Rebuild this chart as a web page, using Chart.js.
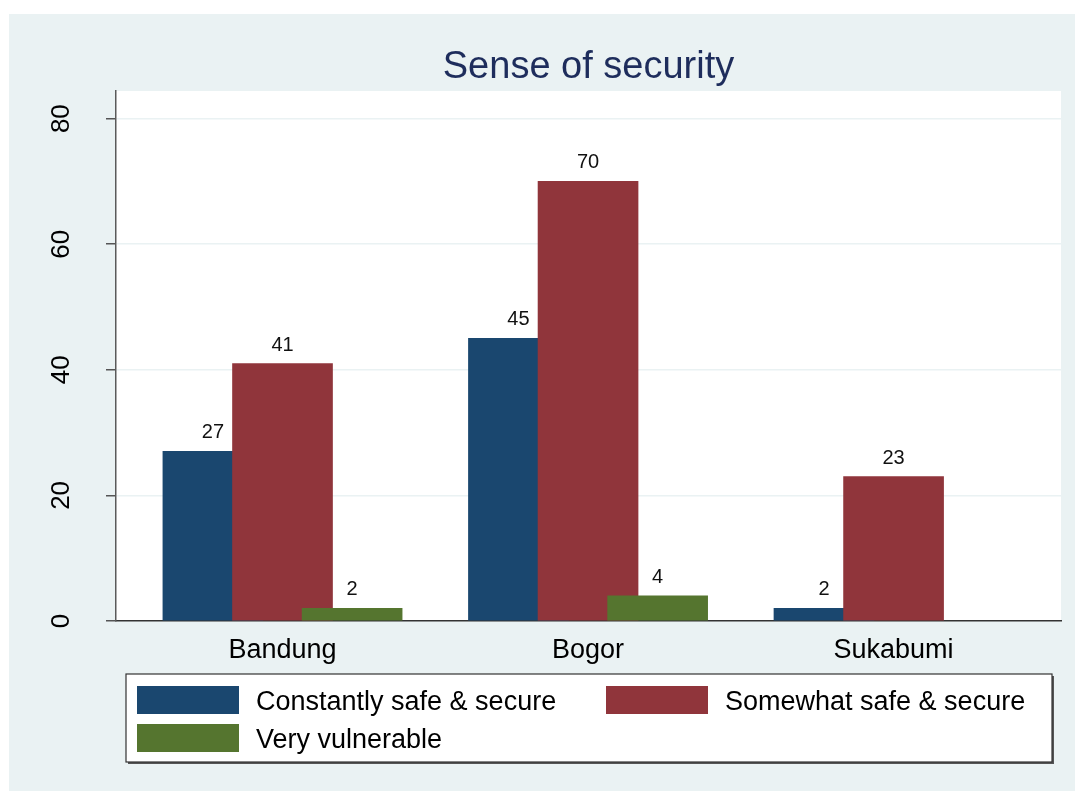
<!DOCTYPE html>
<html><head><meta charset="utf-8">
<script src="https://cdn.jsdelivr.net/npm/chart.js@4/dist/chart.umd.min.js"></script>
<style>html,body{margin:0;padding:0;background:#fff}#wrap{width:1075px;height:791px}</style>
</head><body><div id="wrap"><canvas id="c" width="1075" height="791"></canvas></div>
<script>
// ---- data ----
const categories = ['Bandung', 'Bogor', 'Sukabumi'];
const constantlySafe = [27, 45, 2];
const somewhatSafe = [41, 70, 23];
const veryVulnerable = [2, 4, null];
const seriesLabels = ['Constantly safe & secure', 'Somewhat safe & secure', 'Very vulnerable'];
const yTicks = [0, 20, 40, 60, 80];
const chartTitle = 'Sense of security';

// ---- styles ----
const FONT = '"Liberation Sans", Arial, Helvetica, sans-serif';
const COLORS = ['#1a476f', '#90353b', '#55752f'];
const BG = '#eaf2f3';
const BAR_GAP = 0.2278;   // offset of bars inside a group, in category units
const offsets = [-BAR_GAP, 0, BAR_GAP];

function pts(values, k) {
  return categories.map((c, i) => ({ x: i + offsets[k], y: values[i] }));
}

const bgPlugin = {
  id: 'bg',
  beforeDraw(chart) {
    const { ctx, chartArea: a } = chart;
    ctx.save();
    ctx.fillStyle = '#ffffff';
    ctx.fillRect(0, 0, chart.width, chart.height);
    ctx.fillStyle = BG;
    ctx.fillRect(9, 14, chart.width - 9, chart.height - 14);
    ctx.fillStyle = '#ffffff';
    ctx.fillRect(a.left, a.top, a.right - a.left, a.bottom - a.top);
    ctx.restore();
  }
};

const labelPlugin = {
  id: 'vlabels',
  afterDatasetsDraw(chart) {
    const { ctx } = chart;
    ctx.save();
    ctx.font = '20px ' + FONT;
    ctx.fillStyle = '#111';
    ctx.textAlign = 'center';
    ctx.textBaseline = 'alphabetic';
    chart.data.datasets.forEach((ds, di) => {
      const meta = chart.getDatasetMeta(di);
      meta.data.forEach((el, i) => {
        const v = ds.data[i].y;
        if (v === null || v === undefined) return;
        ctx.fillText(String(v), el.x, el.y - 13);
      });
    });
    ctx.restore();
  }
};

const titlePlugin = {
  id: 'stataTitle',
  afterDraw(chart) {
    const { ctx, chartArea: a } = chart;
    ctx.save();
    ctx.font = '38px ' + FONT;
    ctx.fillStyle = '#1e2d5c';
    ctx.textAlign = 'center';
    ctx.textBaseline = 'alphabetic';
    ctx.fillText(chartTitle, (a.left + a.right) / 2, 78);
    ctx.restore();
  }
};

const legendPlugin = {
  id: 'boxLegend',
  afterDraw(chart) {
    const { ctx } = chart;
    ctx.save();
    // shadow
    ctx.fillStyle = '#555';
    ctx.fillRect(128, 676, 926, 88);
    ctx.fillStyle = '#ffffff';
    ctx.fillRect(126, 674, 926, 88);
    ctx.strokeStyle = '#333';
    ctx.lineWidth = 1.2;
    ctx.strokeRect(126, 674, 926, 88);
    const slots = [
      { sx: 137, tx: 256, y: 686 },
      { sx: 606, tx: 725, y: 686 },
      { sx: 137, tx: 256, y: 724 }
    ];
    ctx.font = '27px ' + FONT;
    ctx.textAlign = 'left';
    ctx.textBaseline = 'middle';
    seriesLabels.forEach((lab, k) => {
      const s = slots[k];
      ctx.fillStyle = COLORS[k];
      ctx.fillRect(s.sx, s.y, 102, 28);
      ctx.fillStyle = '#000';
      ctx.fillText(lab, s.tx, s.y + 17);
    });
    ctx.restore();
  }
};

const seriesValues = [constantlySafe, somewhatSafe, veryVulnerable];
const datasets = seriesValues.map((vals, k) => ({
  label: seriesLabels[k],
  data: pts(vals, k),
  backgroundColor: COLORS[k],
  borderWidth: 0,
  barThickness: 100,
  grouped: false,
  order: 2 - k
}));

new Chart(document.getElementById('c'), {
  type: 'bar',
  data: { datasets },
  plugins: [bgPlugin, labelPlugin, titlePlugin, legendPlugin],
  options: {
    responsive: false,
    devicePixelRatio: 1,
    animation: false,
    layout: { padding: { left: 0, top: 91, right: 14, bottom: 120 } },
    plugins: { legend: { display: false }, title: { display: false }, tooltip: { enabled: false } },
    scales: {
      x: {
        type: 'linear',
        min: -0.545,
        max: 2.548,
        offset: false,
        afterBuildTicks: (s) => { s.ticks = categories.map((c, i) => ({ value: i })); },
        afterFit: (s) => { s.height = 50; },
        ticks: {
          callback: (v) => categories[v],
          autoSkip: false, maxRotation: 0, minRotation: 0,
          font: { family: FONT, size: 27 }, color: '#000', padding: 13
        },
        grid: { display: false, drawTicks: false },
        border: { display: true, color: '#333', width: 1.5 }
      },
      y: {
        min: 0,
        max: 84.4,
        afterBuildTicks: (s) => { s.ticks = yTicks.map(v => ({ value: v })); },
        afterFit: (s) => { s.width = 116; },
        ticks: {
          font: { family: FONT, size: 26 }, color: '#000',
          minRotation: 90, maxRotation: 90, crossAlign: 'center', padding: 30
        },
        grid: {
          color: (c) => (c.tick && c.tick.value === 0) ? 'rgba(0,0,0,0)' : BG,
          lineWidth: 1.5, tickColor: '#555', tickLength: 10, drawTicks: true
        },
        border: { display: true, color: '#5a5a5a', width: 1.5 }
      }
    }
  }
});
</script></body></html>
